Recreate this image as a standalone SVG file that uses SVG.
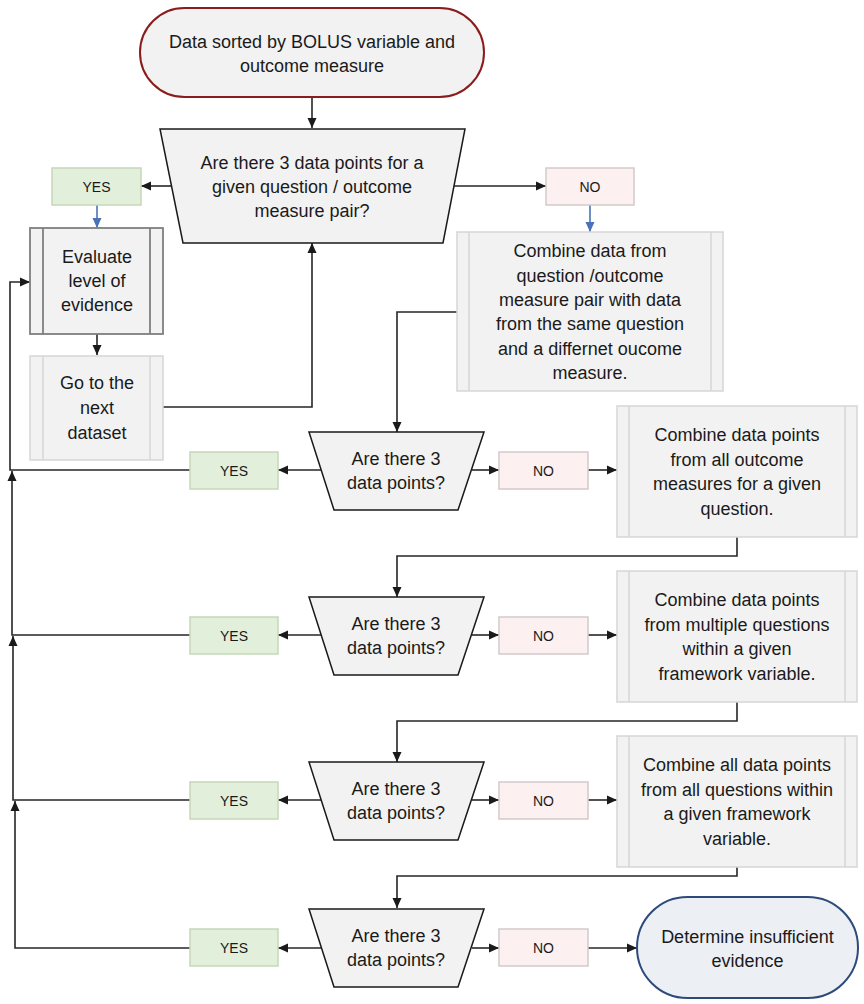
<svg xmlns="http://www.w3.org/2000/svg" width="864" height="1004" viewBox="0 0 864 1004">
<defs>
<marker id="ah" markerUnits="userSpaceOnUse" markerWidth="10" markerHeight="10" viewBox="0 0 10 10" refX="10" refY="5" orient="auto"><path d="M0,0.5 L10,5 L0,9.5 Z" fill="#1a1a1a"/></marker>
<marker id="ahb" markerUnits="userSpaceOnUse" markerWidth="10" markerHeight="10" viewBox="0 0 10 10" refX="10" refY="5" orient="auto"><path d="M0,0.5 L10,5 L0,9.5 Z" fill="#4a72b8"/></marker>
<style>
text{font-family:"Liberation Sans",Arial,sans-serif;fill:#1a1a1a;text-anchor:middle}
.t{font-size:18px}
.s{font-size:14px}
.proc{fill:#f2f2f2;stroke:#d6d6d6;stroke-width:1.5}
.procd{fill:#f2f2f2;stroke:#7f7f7f;stroke-width:1.8}
.trap{fill:#f2f2f2;stroke:#1a1a1a;stroke-width:1.5}
.yes{fill:#e2efda;stroke:#c6d8b9;stroke-width:1.5}
.no{fill:#fcf0f0;stroke:#d3caca;stroke-width:1.5}
.c{fill:none;stroke:#262626;stroke-width:1.6;marker-end:url(#ah)}
.cb{fill:none;stroke:#4a72b8;stroke-width:1.6;marker-end:url(#ahb)}
</style>
</defs>
<rect width="864" height="1004" fill="#ffffff"/>

<g id="connectors">
<path class="c" d="M312,97 V128"/>
<path class="c" d="M171,186 H141"/>
<path class="c" d="M453,186 H546"/>
<path class="cb" d="M97,205 V228"/>
<path class="cb" d="M590,205 V232"/>
<path class="c" d="M97,334 V355"/>
<path class="c" d="M163,407 H312 V243"/>
<path class="c" d="M457,312 H397 V432"/>
<path class="c" d="M737,537 V556 H397 V597"/>
<path class="c" d="M737,702 V721 H397 V762"/>
<path class="c" d="M737,867 V876 H397 V908"/>
<path class="c" d="M321,470 H278"/>
<path class="c" d="M472,470 H499"/>
<path class="c" d="M588,470 H617"/>
<path class="c" d="M321,635 H278"/>
<path class="c" d="M472,635 H499"/>
<path class="c" d="M588,635 H617"/>
<path class="c" d="M321,800 H278"/>
<path class="c" d="M472,800 H499"/>
<path class="c" d="M588,800 H617"/>
<path class="c" d="M321,948 H278"/>
<path class="c" d="M472,948 H499"/>
<path class="c" d="M588,948 H637"/>
<path class="c" d="M190,470 H10 V282 H30"/>
<path class="c" d="M190,635 H12 V471"/>
<path class="c" d="M190,800 H13 V636"/>
<path class="c" d="M190,948 H15 V801"/>
</g>

<g id="start">
<rect x="140" y="8" width="344" height="89" rx="44.5" fill="#f2f2f2" stroke="#8b1c1c" stroke-width="2"/>
<text class="t" x="312" y="48">Data sorted by BOLUS variable and</text>
<text class="t" x="312" y="72">outcome measure</text>
</g>

<g id="q1">
<polygon class="trap" points="160,129 465,129 443,243 183,243"/>
<text class="t" x="312" y="169">Are there 3 data points for a</text>
<text class="t" x="312" y="193">given question / outcome</text>
<text class="t" x="312" y="217">measure pair?</text>
</g>

<g id="yes1">
<rect class="yes" x="52" y="168" width="89" height="37"/>
<text class="s" x="96.5" y="191.5">YES</text>
</g>

<g id="no1">
<rect class="no" x="546" y="168" width="88" height="37"/>
<text class="s" x="590" y="191.5">NO</text>
</g>

<g id="evaluate">
<rect class="procd" x="30" y="228" width="133" height="106"/>
<line x1="43" y1="228" x2="43" y2="334" stroke="#7f7f7f" stroke-width="1.8"/>
<line x1="150" y1="228" x2="150" y2="334" stroke="#7f7f7f" stroke-width="1.8"/>
<text class="t" x="97" y="263">Evaluate</text>
<text class="t" x="97" y="287">level of</text>
<text class="t" x="97" y="311">evidence</text>
</g>

<g id="next">
<rect class="proc" x="30" y="356" width="133" height="104"/>
<line x1="43" y1="356" x2="43" y2="460" stroke="#d6d6d6" stroke-width="1.5"/>
<line x1="150" y1="356" x2="150" y2="460" stroke="#d6d6d6" stroke-width="1.5"/>
<text class="t" x="97" y="389">Go to the</text>
<text class="t" x="97" y="414">next</text>
<text class="t" x="97" y="439">dataset</text>
</g>

<g id="combine1">
<rect class="proc" x="457" y="232" width="266" height="159"/>
<line x1="469" y1="232" x2="469" y2="391" stroke="#d6d6d6" stroke-width="1.5"/>
<line x1="711" y1="232" x2="711" y2="391" stroke="#d6d6d6" stroke-width="1.5"/>
<text class="t" x="590" y="257">Combine data from</text>
<text class="t" x="590" y="282">question /outcome</text>
<text class="t" x="590" y="306">measure pair with data</text>
<text class="t" x="590" y="330">from the same question</text>
<text class="t" x="590" y="355">and a differnet oucome</text>
<text class="t" x="590" y="379">measure.</text>
</g>

<g id="q2">
<polygon class="trap" points="309,432 484,432 458,510 334,510"/>
<text class="t" x="396" y="465">Are there 3</text>
<text class="t" x="396" y="489">data points?</text>
</g>
<g id="yes2"><rect class="yes" x="190" y="452" width="88" height="37"/><text class="s" x="234" y="475.5">YES</text></g>
<g id="no2"><rect class="no" x="499" y="452" width="89" height="37"/><text class="s" x="543.5" y="475.5">NO</text></g>
<g id="combine2">
<rect class="proc" x="617" y="406" width="240" height="131"/>
<line x1="629" y1="406" x2="629" y2="537" stroke="#d6d6d6" stroke-width="1.5"/>
<line x1="845" y1="406" x2="845" y2="537" stroke="#d6d6d6" stroke-width="1.5"/>
<text class="t" x="737" y="441">Combine data points</text>
<text class="t" x="737" y="466">from all outcome</text>
<text class="t" x="737" y="490">measures for a given</text>
<text class="t" x="737" y="515">question.</text>
</g>

<g id="q3">
<polygon class="trap" points="309,597 484,597 458,675 334,675"/>
<text class="t" x="396" y="630">Are there 3</text>
<text class="t" x="396" y="654">data points?</text>
</g>
<g id="yes3"><rect class="yes" x="190" y="617" width="88" height="37"/><text class="s" x="234" y="640.5">YES</text></g>
<g id="no3"><rect class="no" x="499" y="617" width="89" height="37"/><text class="s" x="543.5" y="640.5">NO</text></g>
<g id="combine3">
<rect class="proc" x="617" y="571" width="240" height="131"/>
<line x1="629" y1="571" x2="629" y2="702" stroke="#d6d6d6" stroke-width="1.5"/>
<line x1="845" y1="571" x2="845" y2="702" stroke="#d6d6d6" stroke-width="1.5"/>
<text class="t" x="737" y="606">Combine data points</text>
<text class="t" x="737" y="631">from multiple questions</text>
<text class="t" x="737" y="655">within a given</text>
<text class="t" x="737" y="680">framework variable.</text>
</g>

<g id="q4">
<polygon class="trap" points="309,762 484,762 458,840 334,840"/>
<text class="t" x="396" y="795">Are there 3</text>
<text class="t" x="396" y="819">data points?</text>
</g>
<g id="yes4"><rect class="yes" x="190" y="782" width="88" height="37"/><text class="s" x="234" y="805.5">YES</text></g>
<g id="no4"><rect class="no" x="499" y="782" width="89" height="37"/><text class="s" x="543.5" y="805.5">NO</text></g>
<g id="combine4">
<rect class="proc" x="617" y="736" width="240" height="131"/>
<line x1="629" y1="736" x2="629" y2="867" stroke="#d6d6d6" stroke-width="1.5"/>
<line x1="845" y1="736" x2="845" y2="867" stroke="#d6d6d6" stroke-width="1.5"/>
<text class="t" x="737" y="771">Combine all data points</text>
<text class="t" x="737" y="796">from all questions within</text>
<text class="t" x="737" y="820">a given framework</text>
<text class="t" x="737" y="845">variable.</text>
</g>

<g id="q5">
<polygon class="trap" points="309,909 484,909 458,987 334,987"/>
<text class="t" x="396" y="942">Are there 3</text>
<text class="t" x="396" y="966">data points?</text>
</g>
<g id="yes5"><rect class="yes" x="190" y="929" width="88" height="37"/><text class="s" x="234" y="952.5">YES</text></g>
<g id="no5"><rect class="no" x="499" y="929" width="89" height="37"/><text class="s" x="543.5" y="952.5">NO</text></g>

<g id="end">
<rect x="637" y="897" width="221" height="101" rx="50.5" fill="#eceff4" stroke="#2e4a7a" stroke-width="2"/>
<text class="t" x="747.5" y="943">Determine insufficient</text>
<text class="t" x="747.5" y="967">evidence</text>
</g>
</svg>
